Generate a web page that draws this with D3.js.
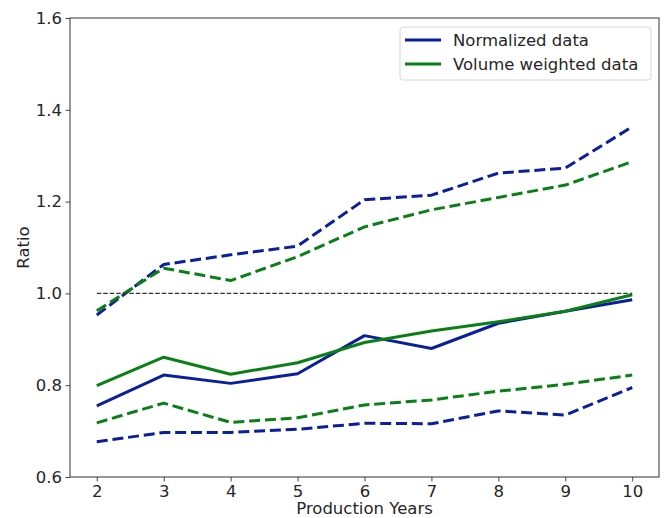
<!DOCTYPE html>
<html>
<head>
<meta charset="utf-8">
<script src="https://cdn.jsdelivr.net/npm/d3@7"></script>
<style>
  html, body { margin: 0; padding: 0; background: #fff; }
  svg { display: block; font-family: "DejaVu Sans", sans-serif; }
</style>
</head>
<body>
<svg id="chart" width="666" height="518"></svg>
<script>
// Production years on the x axis
const years = [2, 3, 4, 5, 6, 7, 8, 9, 10];

// Normalized data: central estimate with upper and lower bounds
const normMid   = [0.755, 0.822, 0.804, 0.825, 0.908, 0.880, 0.935, 0.961, 0.986];
const normUpper = [0.953, 1.063, 1.084, 1.103, 1.204, 1.214, 1.262, 1.273, 1.363];
const normLower = [0.677, 0.697, 0.697, 0.704, 0.717, 0.716, 0.744, 0.735, 0.795];

// Volume weighted data: central estimate with upper and lower bounds
const volMid   = [0.799, 0.861, 0.824, 0.849, 0.893, 0.918, 0.938, 0.961, 0.997];
const volUpper = [0.962, 1.055, 1.028, 1.080, 1.145, 1.182, 1.209, 1.236, 1.287];
const volLower = [0.718, 0.761, 0.719, 0.729, 0.757, 0.768, 0.787, 0.802, 0.822];

// Reference ratio
const refRatio = 1.0;

const yTicks = [0.6, 0.8, 1.0, 1.2, 1.4, 1.6];
const xTicks = years;

const seriesNames = ["Normalized data", "Volume weighted data"];
const BLUE = "#0b1e9c";
const GREEN = "#0a7f16";
const FS = 16.5;

const svg = d3.select("#chart");
const margin = { left: 70, right: 7, top: 18, bottom: 41 };
const W = 666, H = 518;

const x = d3.scaleLinear().domain([1.6, 10.4]).range([margin.left, W - margin.right]);
const y = d3.scaleLinear().domain([0.6, 1.6]).range([H - margin.bottom, margin.top]);

const line = d3.line().x((d, i) => x(years[i])).y(d => y(d));

const g = svg.append("g");

function drawSeries(values, color, dashed) {
  g.append("path")
    .datum(values)
    .attr("d", line)
    .attr("fill", "none")
    .attr("stroke", color)
    .attr("stroke-width", 3)
    .attr("stroke-linejoin", "round")
    .attr("stroke-dasharray", dashed ? "11,4.8" : null);
}

drawSeries(normMid, BLUE, false);
drawSeries(normUpper, BLUE, true);
drawSeries(normLower, BLUE, true);
drawSeries(volMid, GREEN, false);
drawSeries(volUpper, GREEN, true);
drawSeries(volLower, GREEN, true);

// Reference line at ratio 1.0
g.append("line")
  .attr("x1", x(years[0])).attr("x2", x(years[years.length - 1]))
  .attr("y1", y(refRatio)).attr("y2", y(refRatio))
  .attr("stroke", "#333")
  .attr("stroke-width", 1.2)
  .attr("stroke-dasharray", "4.5,2");

// Axes
const xAxis = d3.axisBottom(x).tickValues(xTicks).tickSize(4.5).tickPadding(3.5).tickFormat(d3.format("d"));
const yAxis = d3.axisLeft(y).tickValues(yTicks).tickSize(4.5).tickPadding(3.5).tickFormat(d3.format(".1f"));

const gx = svg.append("g").attr("transform", `translate(0,${H - margin.bottom})`).call(xAxis);
const gy = svg.append("g").attr("transform", `translate(${margin.left},0)`).call(yAxis);
[gx, gy].forEach(a => {
  a.select(".domain").remove();
  a.selectAll(".tick line").attr("stroke", "#444").attr("stroke-width", 1);
  a.selectAll(".tick text").attr("fill", "#262626").attr("font-size", FS)
    .attr("font-family", "DejaVu Sans, sans-serif");
});

// Frame
svg.append("rect")
  .attr("x", margin.left).attr("y", margin.top)
  .attr("width", W - margin.left - margin.right)
  .attr("height", H - margin.top - margin.bottom)
  .attr("fill", "none").attr("stroke", "#444").attr("stroke-width", 1.1);

// Axis titles
svg.append("text")
  .attr("x", (margin.left + W - margin.right) / 2).attr("y", H - 4)
  .attr("text-anchor", "middle").attr("font-size", FS).attr("fill", "#262626")
  .text("Production Years");
svg.append("text")
  .attr("transform", `translate(28.5,${(margin.top + H - margin.bottom) / 2}) rotate(-90)`)
  .attr("text-anchor", "middle").attr("font-size", FS).attr("fill", "#262626")
  .text("Ratio");

// Legend
const lg = svg.append("g").attr("transform", "translate(400,27)");
lg.append("rect").attr("width", 251).attr("height", 53).attr("rx", 3)
  .attr("fill", "#fff").attr("fill-opacity", 0.8).attr("stroke", "#d6d6d6");
[BLUE, GREEN].forEach((c, i) => {
  const yy = 13 + i * 24;
  lg.append("line").attr("x1", 5).attr("x2", 41).attr("y1", yy).attr("y2", yy)
    .attr("stroke", c).attr("stroke-width", 3);
  lg.append("text").attr("x", 53).attr("y", yy + 6).attr("font-size", FS)
    .attr("fill", "#262626").text(seriesNames[i]);
});
</script>
</body>
</html>
